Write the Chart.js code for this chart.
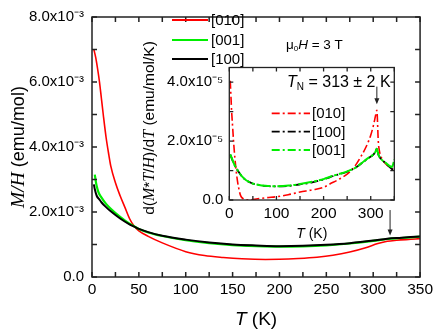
<!DOCTYPE html>
<html><head><meta charset="utf-8">
<script src="https://cdn.jsdelivr.net/npm/chart.js@4/dist/chart.umd.min.js"></script>
<style>
html,body{margin:0;padding:0;background:#fff;}
#wrap{position:relative;width:436px;height:329px;overflow:hidden;}
#main{position:absolute;left:0;top:0;width:436px;height:329px;}
#inset{position:absolute;left:130px;top:30px;width:280px;height:220px;}
</style></head><body>
<div id="wrap"><canvas id="main" width="436" height="329"></canvas><canvas id="inset" width="280" height="220"></canvas></div>
<script>
// ---------- Main panel: M/H (in units of 1e-3 emu/mol) vs T (K) ----------
const T_010 = [2,4,6,8,10,12,15,18,20,25,30,35,40,45,50,60,75,100,120,140,160,185,200,220,240,257,275,292,305,315,325,340,350];
const MH_010 = [7.0,6.75,6.4,6.0,5.5,5.0,4.3,3.75,3.42,2.9,2.5,2.15,1.8,1.56,1.42,1.25,1.05,0.78,0.66,0.6,0.56,0.54,0.545,0.57,0.61,0.67,0.77,0.9,1.03,1.1,1.13,1.16,1.18];
const T_001 = [3,4,5,7,10,15,20,30,40,45,50,60,75,100,125,150,175,200,225,250,275,300,315,330,350];
const MH_001 = [3.15,2.95,2.8,2.6,2.45,2.25,2.1,1.85,1.64,1.56,1.48,1.37,1.26,1.13,1.04,0.98,0.95,0.935,0.945,0.975,1.03,1.11,1.17,1.2,1.24];
const T_100 = [2,3,5,8,10,15,20,30,40,45,50,60,75,100,125,150,175,200,225,250,275,300,315,330,350];
const MH_100 = [2.85,2.7,2.5,2.38,2.3,2.15,2.02,1.8,1.62,1.55,1.48,1.38,1.27,1.15,1.06,1.0,0.97,0.95,0.96,0.99,1.04,1.12,1.18,1.21,1.25];
const MAIN_SCALE = 1e-3;
const MAIN_X_LIMITS = [0, 350];
const MAIN_Y_LIMITS = [0, 8e-3];

// ---------- Inset: d(M*T/H)/dT (in units of 1e-5 emu/mol/K) vs T (K) ----------
const Td_010 = [2,3,5,7,9,12,16,20,24,30,40,60,80,100,125,150,175,200,214,230,250,265,280,290,300,306,310,313,316,318,324,338,350];
const D_010 = [4.05,3.7,3.0,2.5,2.0,1.4,0.8,0.4,0.15,0.04,0.0,0.04,0.08,0.11,0.18,0.27,0.34,0.43,0.55,0.68,0.88,1.12,1.5,1.8,2.2,2.55,2.85,3.05,2.0,1.7,1.4,1.14,1.0];
const Td_100 = [2,5,10,15,20,27,35,48,60,77,98,126,150,176,200,214,230,250,270,285,295,306,310,313,316,320,331,345,350];
const D_100 = [1.54,1.42,1.22,1.08,0.95,0.8,0.68,0.57,0.52,0.48,0.46,0.48,0.53,0.6,0.7,0.78,0.86,0.96,1.12,1.3,1.42,1.55,1.65,1.74,1.55,1.43,1.26,1.05,1.0];
const Td_001 = [2,5,10,15,20,27,35,48,60,77,98,126,150,176,200,214,230,250,270,285,295,306,310,313,316,320,331,345,350];
const D_001 = [1.55,1.43,1.23,1.08,0.95,0.8,0.68,0.57,0.52,0.48,0.47,0.49,0.54,0.62,0.71,0.79,0.87,0.97,1.12,1.31,1.43,1.55,1.64,1.74,1.56,1.43,1.27,1.12,1.37];
const INSET_SCALE = 1e-5;
const INSET_X_LIMITS = [0, 350];
const INSET_Y_LIMITS = [0, 4.5e-5];
const T_N = 313;
const LEGEND_MAIN = ['[010]', '[001]', '[100]'];
const LEGEND_INSET = ['[010]', '[100]', '[001]'];

const RED = '#ff0000', GREEN = '#00ee00', BLACK = '#000000';
const SANS = "'Liberation Sans', Arial, Helvetica, sans-serif";
const SERIF = "'Liberation Serif', 'Times New Roman', serif";
Chart.defaults.font.family = SANS;
Chart.defaults.color = '#000';

const pts = (xs, ys, k) => xs.map((x, i) => ({x, y: ys[i] * k}));

function drawRuns(ctx, x, y, runs, align) {
  let w = 0;
  for (const r of runs) { ctx.font = r.f; w += ctx.measureText(r.t).width; }
  let cx = align === 'center' ? x - w / 2 : (align === 'right' ? x - w : x);
  ctx.textAlign = 'left'; ctx.textBaseline = 'alphabetic';
  for (const r of runs) { ctx.font = r.f; ctx.fillText(r.t, cx, y + (r.dy || 0)); cx += ctx.measureText(r.t).width; }
}
function frameTicks(chart, len, lw) {
  const {ctx, chartArea: a} = chart, sx = chart.scales.x, sy = chart.scales.y;
  ctx.save();
  ctx.strokeStyle = '#222'; ctx.lineWidth = lw;
  ctx.beginPath();
  for (const t of sx.ticks) {
    const p = sx.getPixelForValue(t.value);
    ctx.moveTo(p, a.bottom); ctx.lineTo(p, a.bottom - len);
    ctx.moveTo(p, a.top); ctx.lineTo(p, a.top + len);
  }
  for (const t of sy.ticks) {
    const p = sy.getPixelForValue(t.value);
    ctx.moveTo(a.left, p); ctx.lineTo(a.left + len, p);
    ctx.moveTo(a.right, p); ctx.lineTo(a.right - len, p);
  }
  ctx.stroke();
  ctx.strokeRect(a.left, a.top, a.right - a.left, a.bottom - a.top);
  ctx.restore();
}
function arrow(ctx, x, y1, y2) {
  ctx.save(); ctx.strokeStyle = '#222'; ctx.fillStyle = '#222'; ctx.lineWidth = 1;
  ctx.beginPath(); ctx.moveTo(x, y1); ctx.lineTo(x, y2 - 4); ctx.stroke();
  ctx.beginPath(); ctx.moveTo(x - 2.5, y2 - 6); ctx.lineTo(x + 2.5, y2 - 6); ctx.lineTo(x, y2); ctx.closePath(); ctx.fill();
  ctx.restore();
}

// ---------- main chart ----------
const mainPlugin = {
  id: 'mainDeco',
  afterDraw(chart) {
    const ctx = chart.ctx, a = chart.chartArea, sx = chart.scales.x, sy = chart.scales.y;
    frameTicks(chart, 5, 1.5);
    ctx.save();
    ctx.fillStyle = '#000';
    // y title
    ctx.save(); ctx.translate(17, (a.top + a.bottom) / 2); ctx.rotate(-Math.PI / 2);
    drawRuns(ctx, 0, 7, [{t: 'M/H', f: 'italic 19.5px ' + SERIF}, {t: ' (emu/mol)', f: '18px ' + SANS}], 'center');
    ctx.restore();
    // x title
    drawRuns(ctx, (a.left + a.right) / 2, 325, [{t: 'T', f: 'italic 19px ' + SANS}, {t: ' (K)', f: '19px ' + SANS}], 'center');
    // legend
    const cols = [RED, GREEN, BLACK], rows = [20, 40, 59];
    LEGEND_MAIN.forEach((lab, i) => {
      ctx.strokeStyle = cols[i]; ctx.lineWidth = 2;
      ctx.beginPath(); ctx.moveTo(172, rows[i]); ctx.lineTo(208, rows[i]); ctx.stroke();
      ctx.font = '15px ' + SANS; ctx.textBaseline = 'middle'; ctx.textAlign = 'left';
      ctx.fillText(lab, 211, rows[i] + 1);
    });
    // field label
    drawRuns(ctx, 286, 48.5, [{t: 'μ', f: '13.5px ' + SANS}, {t: '0', f: '8px ' + SANS, dy: 2}, {t: 'H', f: 'italic 13.5px ' + SANS}, {t: ' = 3 T', f: '13.5px ' + SANS}], 'left');
    // arrow at T_N
    const ax = sx.getPixelForValue(318);
    arrow(ctx, ax, sy.getPixelForValue(2.06e-3), sy.getPixelForValue(1.28e-3));
    ctx.restore();
  }
};

new Chart(document.getElementById('main'), {
  type: 'line',
  data: {
    datasets: [
      {label: LEGEND_MAIN[0], data: pts(T_010, MH_010, MAIN_SCALE), borderColor: RED, borderWidth: 1.6, order: 2},
      {label: LEGEND_MAIN[1], data: pts(T_001, MH_001, MAIN_SCALE), borderColor: GREEN, borderWidth: 2.2, order: 1},
      {label: LEGEND_MAIN[2], data: pts(T_100, MH_100, MAIN_SCALE), borderColor: BLACK, borderWidth: 2, order: 0}
    ]
  },
  options: {
    responsive: false, animation: false, devicePixelRatio: 1,
    layout: {padding: {left: 0, right: 15, top: 12, bottom: 0}},
    elements: {point: {radius: 0}, line: {cubicInterpolationMode: 'monotone', fill: false}},
    plugins: {legend: {display: false}, tooltip: {enabled: false}},
    scales: {
      x: {type: 'linear', min: MAIN_X_LIMITS[0], max: MAIN_X_LIMITS[1],
          grid: {display: false, drawTicks: false, tickLength: 0}, border: {display: false},
          ticks: {stepSize: 25, autoSkip: false, maxRotation: 0, padding: 3, font: {size: 15.5},
                  callback: v => (Math.round(v) % 50 === 0 ? String(Math.round(v)) : '')},
          afterFit: s => { s.height = 52; }},
      y: {type: 'linear', min: MAIN_Y_LIMITS[0], max: MAIN_Y_LIMITS[1],
          grid: {display: false, drawTicks: false, tickLength: 0}, border: {display: false},
          ticks: {stepSize: 1e-3, autoSkip: false, padding: 8, font: {size: 15},
                  callback: v => { const k = Math.round(v * 1e3); if (k % 2) return ''; return k === 0 ? '0.0' : k.toFixed(1) + 'x10⁻³'; }},
          afterFit: s => { s.width = 92; }}
    }
  },
  plugins: [mainPlugin]
});

// ---------- inset chart ----------
const insetPlugin = {
  id: 'insetDeco',
  beforeDraw(chart) {
    const a = chart.chartArea, ctx = chart.ctx;
    ctx.save(); ctx.fillStyle = '#fff'; ctx.fillRect(a.left, a.top, a.right - a.left, a.bottom - a.top); ctx.restore();
  },
  afterDraw(chart) {
    const ctx = chart.ctx, a = chart.chartArea, sx = chart.scales.x, sy = chart.scales.y;
    frameTicks(chart, 4, 1.3);
    ctx.save(); ctx.fillStyle = '#000';
    // y title
    ctx.save(); ctx.translate(18, 98); ctx.rotate(-Math.PI / 2);
    const it = 'italic 16px ' + SERIF, rg = '15.5px ' + SANS;
    drawRuns(ctx, 0, 6, [{t: 'd(', f: rg}, {t: 'M', f: it}, {t: '*', f: rg}, {t: 'T', f: it}, {t: '/', f: rg}, {t: 'H', f: it}, {t: ')/d', f: rg}, {t: 'T', f: it}, {t: ' (emu/mol/K)', f: rg}], 'center');
    ctx.restore();
    // x title
    drawRuns(ctx, (a.left + a.right) / 2, 208, [{t: 'T', f: 'italic 14px ' + SANS}, {t: ' (K)', f: '14px ' + SANS}], 'center');
    // T_N label
    drawRuns(ctx, 157, 57, [{t: 'T', f: 'italic 16px ' + SANS}, {t: 'N', f: '10px ' + SANS, dy: 3}, {t: ' = 313 ± 2 K', f: '16px ' + SANS}], 'left');
    // legend
    const cols = [RED, BLACK, GREEN], rows = [83.3, 101.7, 120];
    LEGEND_INSET.forEach((lab, i) => {
      ctx.strokeStyle = cols[i]; ctx.lineWidth = 1.8; ctx.setLineDash([8, 3, 2, 3]);
      ctx.beginPath(); ctx.moveTo(141.7, rows[i]); ctx.lineTo(180, rows[i]); ctx.stroke();
      ctx.setLineDash([]);
      ctx.font = '15px ' + SANS; ctx.textBaseline = 'middle'; ctx.textAlign = 'left';
      ctx.fillText(lab, 182, rows[i] + 1);
    });
    // arrow
    const ax = sx.getPixelForValue(T_N);
    arrow(ctx, ax, sy.getPixelForValue(3.85e-5), sy.getPixelForValue(3.25e-5));
    ctx.restore();
  }
};

new Chart(document.getElementById('inset'), {
  type: 'line',
  data: {
    datasets: [
      {label: LEGEND_INSET[0], data: pts(Td_010, D_010, INSET_SCALE), borderColor: RED, borderWidth: 1.6, borderDash: [8, 3, 2, 3], order: 2},
      {label: LEGEND_INSET[1], data: pts(Td_100, D_100, INSET_SCALE), borderColor: BLACK, borderWidth: 1.8, borderDash: [8, 3, 2, 3], order: 1},
      {label: LEGEND_INSET[2], data: pts(Td_001, D_001, INSET_SCALE), borderColor: GREEN, borderWidth: 2, borderDash: [14, 2, 3, 2], order: 0}
    ]
  },
  options: {
    responsive: false, animation: false, devicePixelRatio: 1,
    layout: {padding: {left: 0, right: 15.7, top: 37.5, bottom: 0}},
    elements: {point: {radius: 0}, line: {cubicInterpolationMode: 'monotone', fill: false}},
    plugins: {legend: {display: false}, tooltip: {enabled: false}},
    scales: {
      x: {type: 'linear', min: INSET_X_LIMITS[0], max: INSET_X_LIMITS[1],
          grid: {display: false, drawTicks: false, tickLength: 0}, border: {display: false},
          ticks: {stepSize: 50, autoSkip: false, maxRotation: 0, padding: 4, font: {size: 15.5},
                  callback: v => (Math.round(v) % 100 === 0 ? String(Math.round(v)) : '')},
          afterFit: s => { s.height = 50; }},
      y: {type: 'linear', min: INSET_Y_LIMITS[0], max: INSET_Y_LIMITS[1],
          grid: {display: false, drawTicks: false, tickLength: 0}, border: {display: false},
          ticks: {stepSize: 1e-5, autoSkip: false, includeBounds: false, padding: 6, font: {size: 15},
                  callback: v => { const k = Math.round(v * 1e5); if (k % 2 || k > 4) return ''; return k === 0 ? '0.0' : k.toFixed(1) + 'x10⁻⁵'; }},
          afterFit: s => { s.width = 99.3; }}
    }
  },
  plugins: [insetPlugin]
});
</script>
</body></html>
